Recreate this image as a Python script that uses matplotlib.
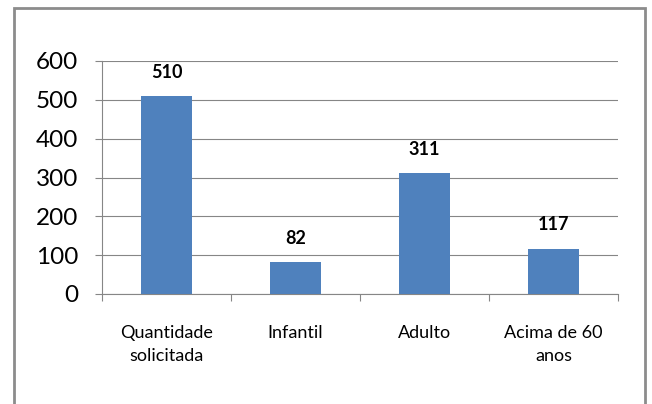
import matplotlib.pyplot as plt
from matplotlib.patches import Rectangle

categories = ['Quantidade\nsolicitada', 'Infantil', 'Adulto', 'Acima de 60\nanos']
values = [510, 82, 311, 117]
y_ticks = [0, 100, 200, 300, 400, 500, 600]

plt.rcParams['font.family'] = ['Lato', 'DejaVu Sans']

fig = plt.figure(figsize=(6.52, 4.04), dpi=100)
ax = fig.add_axes([102 / 652, 1 - 294 / 404, 516 / 652, 233 / 404])

# frame around the whole chart, like the Excel chart area
fig.patches.append(Rectangle((14 / 652, -0.05), 631 / 652, 1 - 8 / 404 + 0.05,
                             transform=fig.transFigure, fill=False,
                             edgecolor='#8c8c8c', linewidth=2))

x = range(len(categories))
bars = ax.bar(x, values, width=0.4, color='#4f81bd', zorder=3)
for xi, v in zip(x, values):
    ax.annotate(str(v), (xi, v), xytext=(0, 17), textcoords='offset points',
                ha='center', va='center', fontsize=13, fontweight='bold')

ax.set_xlim(-0.5, len(categories) - 0.5)
ax.set_ylim(0, 600)
ax.set_yticks(y_ticks)
ax.tick_params(axis='y', labelsize=17.5, length=5, color='#868686', pad=12)
ax.yaxis.grid(True, color='#868686', linewidth=0.8, zorder=0)

ax.set_xticks([i + 0.5 for i in range(-1, len(categories))], minor=False)
ax.set_xticklabels([])
ax.set_xticks(list(x), minor=True)
ax.set_xticklabels(categories, minor=True, fontsize=13, linespacing=1.6)
ax.tick_params(axis='x', which='major', length=5, color='#868686')
ax.tick_params(axis='x', which='minor', length=0, pad=22)

for side in ['top', 'right']:
    ax.spines[side].set_visible(False)
for side in ['left', 'bottom']:
    ax.spines[side].set_color('#868686')

fig.savefig('out.png', dpi=100)
